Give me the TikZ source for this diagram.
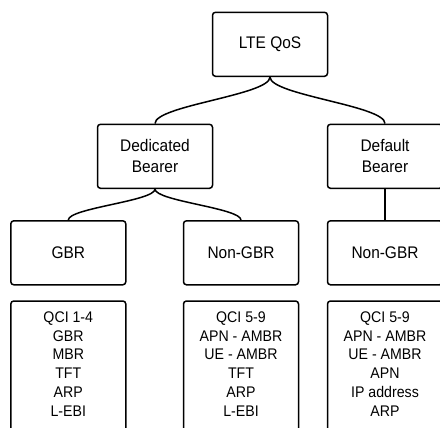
\documentclass[tikz,border=0pt]{standalone}
\usepackage{fontspec}
\setmainfont{Liberation Sans}[FakeStretch=0.92]

\begin{document}
\begin{tikzpicture}[x=1pt, y=-1pt,
    qosBox/.style={rectangle, rounded corners=3pt, draw=black, line width=1.5pt, minimum width=115pt, minimum height=64pt, align=center, inner sep=0pt, font=\fontsize{16.8}{21}\selectfont},
    listBox/.style={rectangle, rounded corners=3pt, draw=black, line width=1.5pt, minimum width=115pt, inner sep=0pt, text height=21pt, text depth=130pt, anchor=base, font=\fontsize{15.4}{19}\selectfont},
    link/.style={line width=1.5pt}
]
    \useasboundingbox (0,0) rectangle (440,428);
    \clip (0,0) rectangle (440,428);

    % upper levels
    \node[qosBox] (lte) at (270,44.3) {LTE QoS};
    \node[qosBox] (ded) at (155,156.3) {Dedicated\\Bearer};
    \node[qosBox] (def) at (385,156.3) {Default\\Bearer};

    % bearer types
    \node[qosBox] (gbr) at (68.3,252.8) {GBR};
    \node[qosBox] (ngbrA) at (241,252.8) {Non-GBR};
    \node[qosBox] (ngbrB) at (385,252.8) {Non-GBR};

    % parameter lists
    \node[listBox] (gbrList) at (68.3,322) {\begin{tabular}[t]{@{}c@{}}QCI 1-4\\GBR\\MBR\\TFT\\ARP\\L-EBI\end{tabular}};
    \node[listBox] (ngbrListA) at (241,322) {\begin{tabular}[t]{@{}c@{}}QCI 5-9\\APN - AMBR\\UE - AMBR\\TFT\\ARP\\L-EBI\end{tabular}};
    \node[listBox] (ngbrListB) at (385,322) {\begin{tabular}[t]{@{}c@{}}QCI 5-9\\APN - AMBR\\UE - AMBR\\APN\\IP address\\ARP\end{tabular}};

    % connectors
    \draw[link] (lte.south) .. controls +(0,18) and +(0,-18) .. (ded.north);
    \draw[link] (lte.south) .. controls +(0,18) and +(0,-18) .. (def.north);
    \draw[link] (ded.south) .. controls +(0,12) and +(0,-12) .. (gbr.north);
    \draw[link] (ded.south) .. controls +(0,12) and +(0,-12) .. (ngbrA.north);
    \draw[link] (def.south) -- (ngbrB.north);
\end{tikzpicture}
\end{document}
